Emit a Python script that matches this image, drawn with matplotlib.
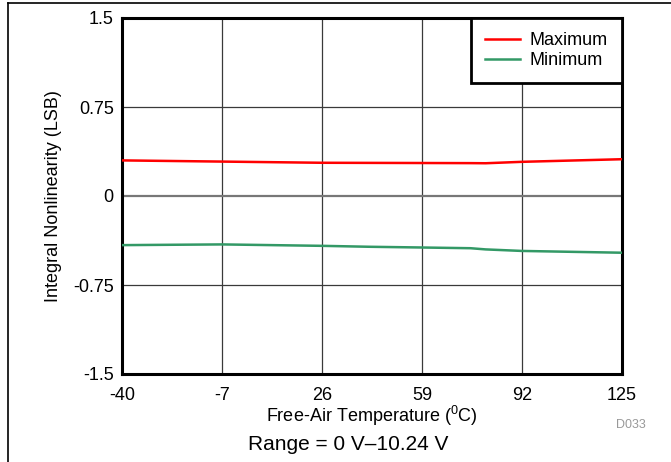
import matplotlib
matplotlib.use("Agg")
import matplotlib.pyplot as plt
from matplotlib.lines import Line2D

plt.rcParams['font.family'] = ['Liberation Sans', 'DejaVu Sans']
plt.rcParams['mathtext.fontset'] = 'custom'
plt.rcParams['mathtext.rm'] = 'Liberation Sans'
plt.rcParams['mathtext.it'] = 'Liberation Sans'

temp_max = [-40, -7, 26, 59, 75, 80, 92, 125]
ilm_max = [0.300, 0.290, 0.280, 0.278, 0.277, 0.276, 0.288, 0.310]
temp_min = [-40, -7, 26, 42, 59, 75, 80, 92, 125]
ilm_min = [-0.414, -0.408, -0.420, -0.428, -0.434, -0.440, -0.450, -0.463, -0.478]

xticks = [-40, -7, 26, 59, 92, 125]
yticks = [-1.5, -0.75, 0, 0.75, 1.5]
ytick_labels = ['-1.5', '-0.75', '0', '0.75', '1.5']

fig = plt.figure(figsize=(6.71, 4.62), dpi=100)
ax = fig.add_axes([122/671, 1-374/462, 500/671, 356/462])

for x in xticks[1:-1]:
    ax.axvline(x, color='#3a3a3a', lw=0.9, zorder=1)
for y in yticks[1:-1]:
    ax.axhline(y, color='#3a3a3a' if y != 0 else '#777777', lw=0.9 if y != 0 else 1.6, zorder=1)

ax.plot(temp_max, ilm_max, color='#ff0000', lw=1.8, label='Maximum', zorder=3)
ax.plot(temp_min, ilm_min, color='#339966', lw=1.8, label='Minimum', zorder=3)

ax.set_xlim(-40, 125)
ax.set_ylim(-1.5, 1.5)
ax.set_xticks(xticks)
ax.set_xticklabels([str(t) for t in xticks])
ax.set_yticks(yticks)
ax.set_yticklabels(ytick_labels)
ax.tick_params(axis='y', length=0, labelsize=13, pad=6)
ax.tick_params(axis='x', length=0, labelsize=13, pad=9)
for s in ax.spines.values():
    s.set_linewidth(2.2)
    s.set_color('black')

ax.set_xlabel(r'Free-Air Temperature ($^0$C)', fontsize=13, labelpad=0)
ax.set_ylabel('Integral Nonlinearity (LSB)', fontsize=13, labelpad=8)

leg = ax.legend(loc='upper right', borderaxespad=0, fancybox=False, fontsize=13,
                handlelength=1.95, handletextpad=0.55, borderpad=0.78, labelspacing=0.18,
                framealpha=1)
leg.get_frame().set_edgecolor('black')
leg.get_frame().set_linewidth(2.0)

fig.text(631/671, 1-425/462, 'D033', fontsize=9, color='#999999', ha='center', va='center')
fig.text(348/671, 1-445/462, 'Range = 0 V\u201310.24 V', fontsize=15, ha='center', va='center')

fig.add_artist(Line2D([8/671, 8/671], [0, 1-3/462], transform=fig.transFigure, color='black', lw=1.2))
fig.add_artist(Line2D([8/671, 1], [1-3/462, 1-3/462], transform=fig.transFigure, color='black', lw=1.2))

fig.savefig('out.png', dpi=100)
